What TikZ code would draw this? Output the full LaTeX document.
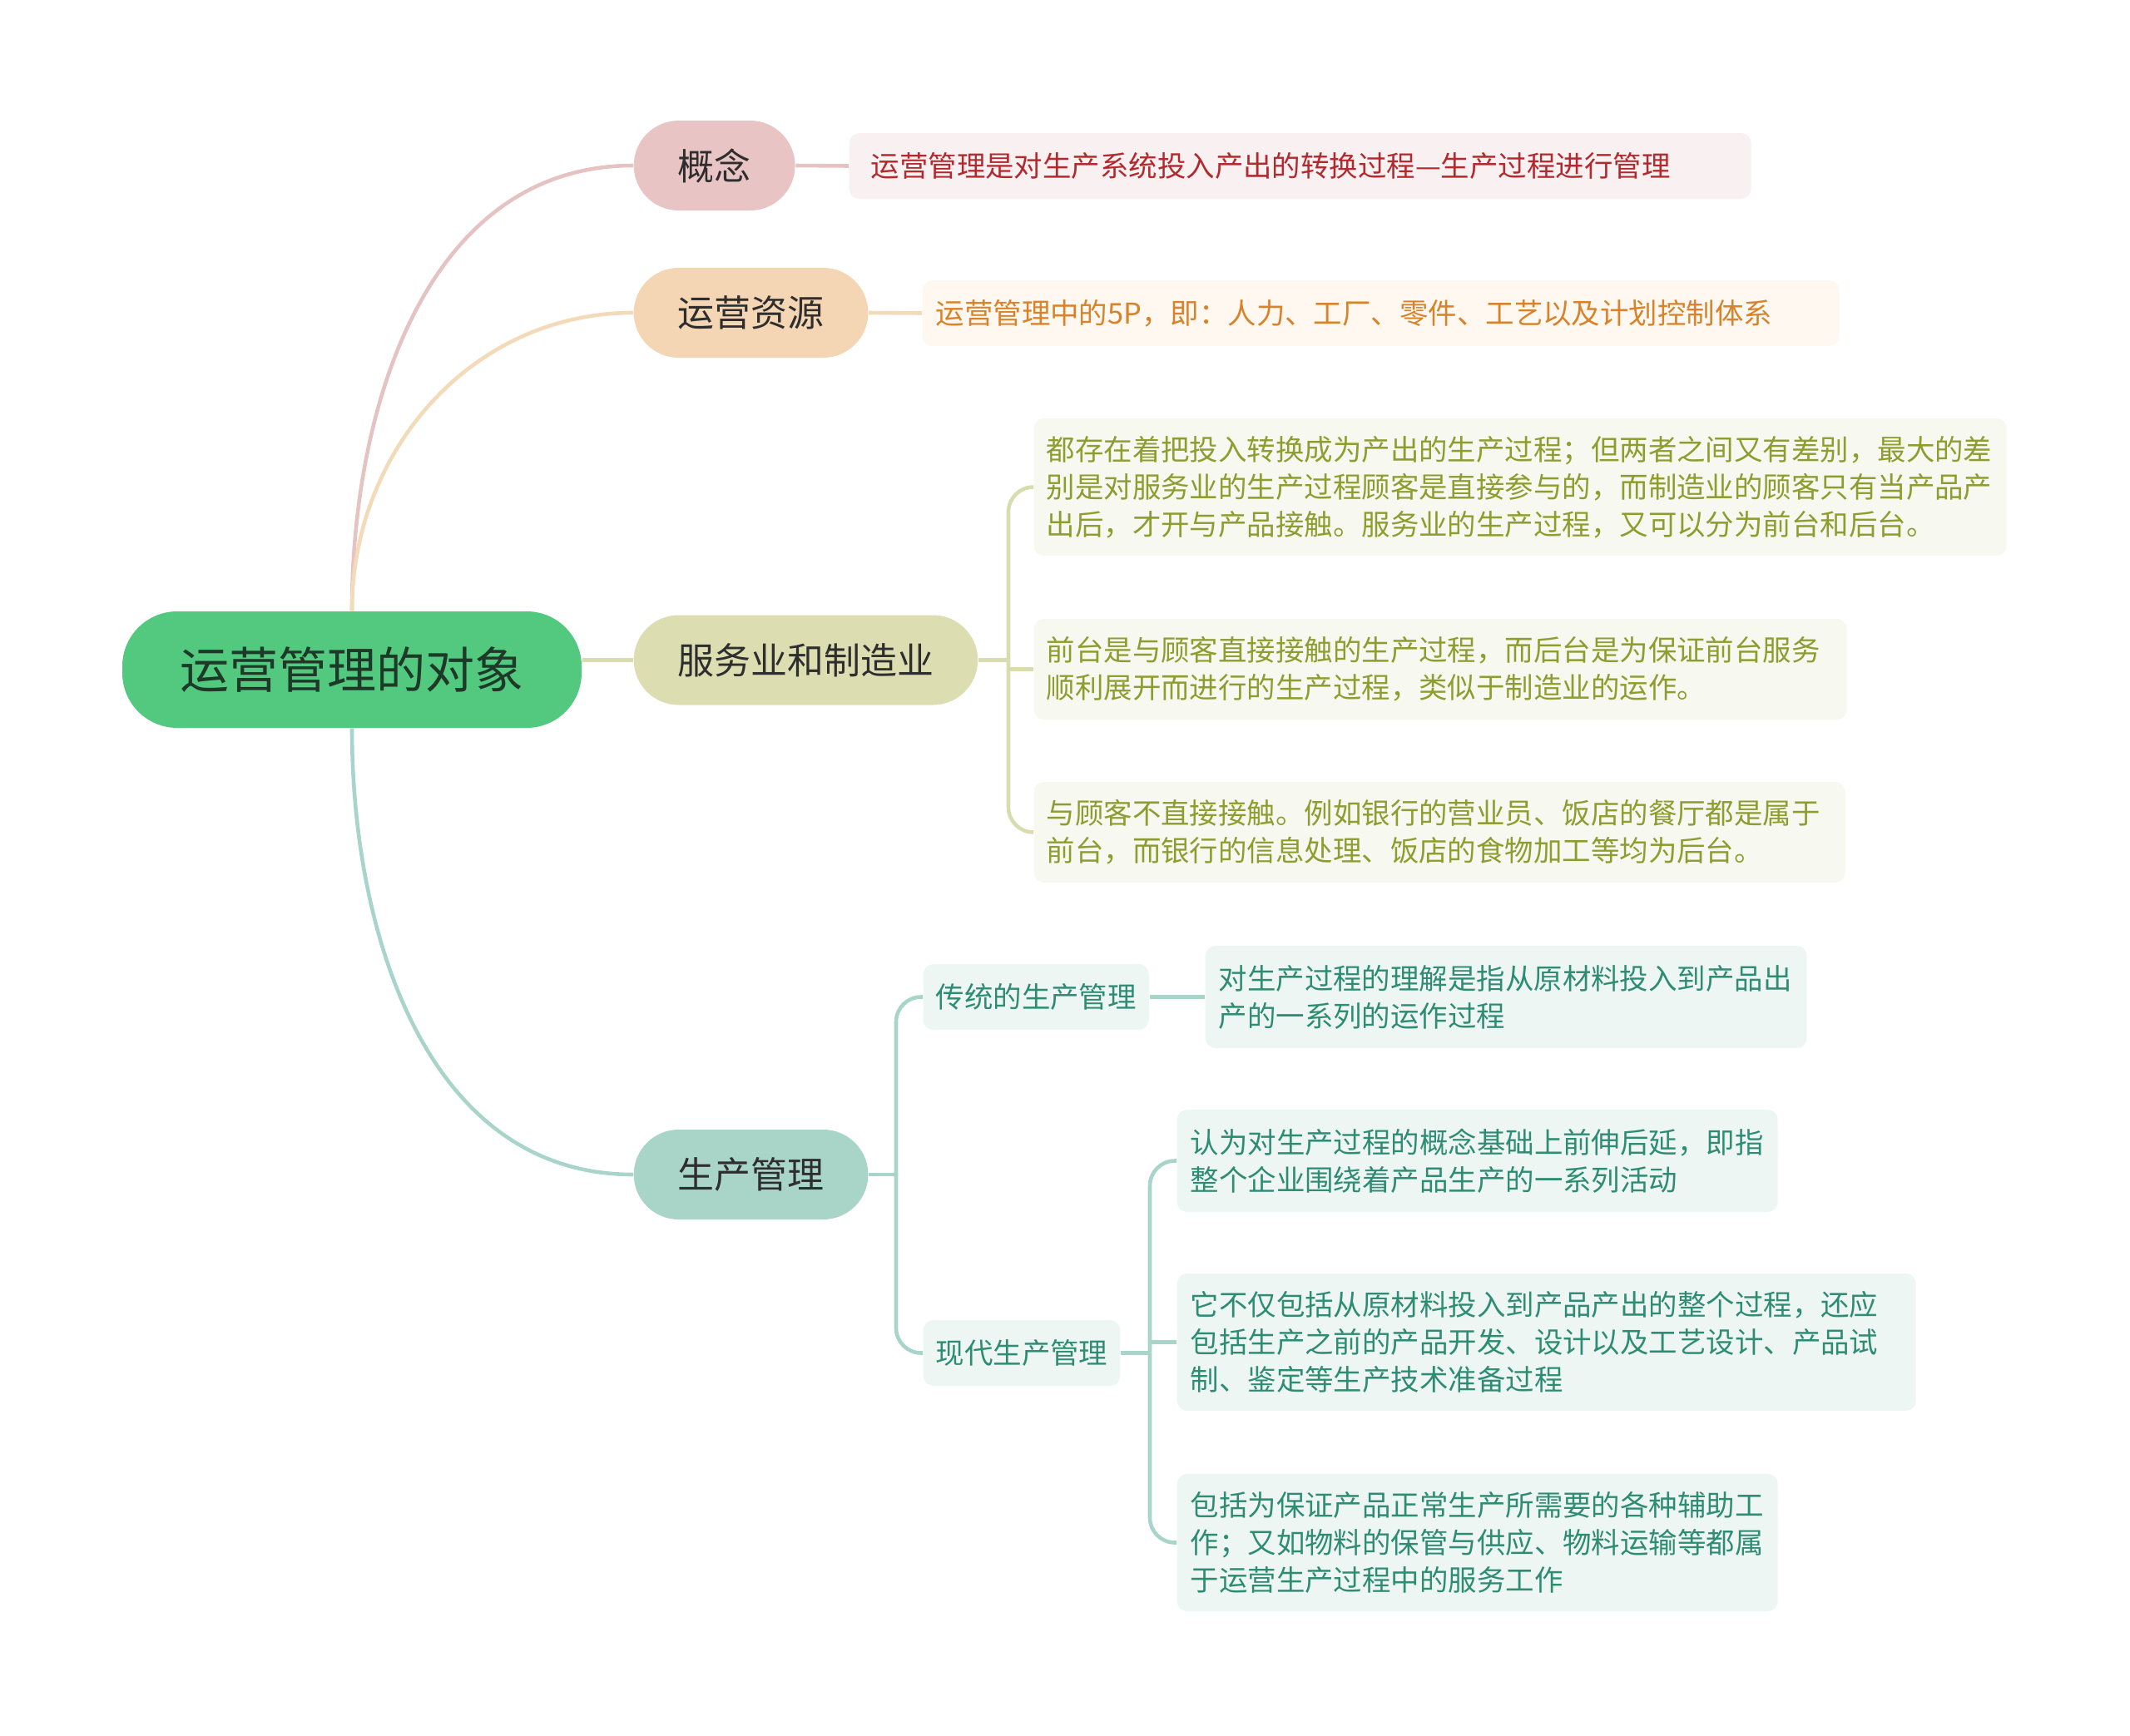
\documentclass[tikz,border=0pt]{standalone}
\usepackage{fontspec}
\setmainfont{Noto Sans CJK SC}
\usepackage{tikz}
\definecolor{rootgreen}{HTML}{52C97F}
\definecolor{rootink}{HTML}{1D3A28}
\definecolor{topicink}{HTML}{2E2E2E}
\definecolor{rosetopic}{HTML}{E8C4C4}
\definecolor{roseline}{HTML}{E6C3C3}
\definecolor{rosebg}{HTML}{F9F1F1}
\definecolor{roseink}{HTML}{B2292E}
\definecolor{sandtopic}{HTML}{F4D6B4}
\definecolor{sandline}{HTML}{F3DAB9}
\definecolor{sandbg}{HTML}{FEF8F0}
\definecolor{sandink}{HTML}{D8822A}
\definecolor{mosstopic}{HTML}{DCDEB2}
\definecolor{mossline}{HTML}{D9DCAF}
\definecolor{mossbg}{HTML}{F7F8EF}
\definecolor{mossink}{HTML}{8E9D30}
\definecolor{sagetopic}{HTML}{A9D5C9}
\definecolor{sageline}{HTML}{A9D4C9}
\definecolor{sagebg}{HTML}{EEF6F4}
\definecolor{sageink}{HTML}{2E8C73}
\tikzset{
  rootnode/.style={rectangle,rounded corners=0.66cm,minimum width=5.52cm,minimum height=1.40cm,
    fill=rootgreen,text=rootink,font=\fontsize{16.8}{20}\selectfont},
  topic/.style={rectangle,rounded corners=0.54cm,minimum height=1.08cm,inner xsep=0.53cm,
    fill=#1topic,text=topicink,font=\fontsize{12.5}{15}\selectfont,anchor=west},
  subtopic/.style={rectangle,rounded corners=0.12cm,minimum height=0.79cm,inner xsep=0.15cm,
    fill=#1bg,text=#1ink,font=\fontsize{9.8}{12.8}\selectfont,anchor=west},
  leaf/.style={rectangle,rounded corners=0.12cm,inner xsep=0.15cm,inner ysep=0pt,
    fill=#1bg,text=#1ink,font=\fontsize{9.8}{12.8}\selectfont,align=left,anchor=west},
  branch/.style={draw=#1line,line width=1.3pt},
}
\begin{document}
\begin{tikzpicture}
  \useasboundingbox (0,0) rectangle (25.6,-20.87);
  \node[rootnode] (root) at (4.23,-8.05) {运营管理的对象};
  % first level
  \node[topic=rose] (gn) at (7.61,-1.99)  {概念};
  \node[topic=sand] (zn) at (7.61,-3.76)  {运营资源};
  \node[topic=moss] (fn) at (7.61,-7.935) {服务业和制造业};
  \node[topic=sage] (sn) at (7.61,-14.12) {生产管理};
  % leaves
  \node[leaf=rose,inner xsep=0.26cm,text width=10.32cm,minimum height=0.79cm] (gl) at (10.20,-1.995)
    {运营管理是对生产系统投入产出的转换过程—生产过程进行管理};
  \node[leaf=sand,inner xsep=0.16cm,text width=10.70cm,minimum height=0.79cm] (zl) at (11.08,-3.765)
    {运营管理中的5P，即：人力、工厂、零件、工艺以及计划控制体系};
  \node[leaf=moss,text width=11.39cm,minimum height=1.65cm] (f1) at (12.42,-5.855)
    {都存在着把投入转换成为产出的生产过程；但两者之间又有差别，最大的差\\别是对服务业的生产过程顾客是直接参与的，而制造业的顾客只有当产品产\\出后，才开与产品接触。服务业的生产过程，又可以分为前台和后台。};
  \node[leaf=moss,text width=9.47cm,minimum height=1.21cm] (f2) at (12.42,-8.045)
    {前台是与顾客直接接触的生产过程，而后台是为保证前台服务\\顺利展开而进行的生产过程，类似于制造业的运作。};
  \node[leaf=moss,text width=9.45cm,minimum height=1.21cm] (f3) at (12.42,-10.005)
    {与顾客不直接接触。例如银行的营业员、饭店的餐厅都是属于\\前台，而银行的信息处理、饭店的食物加工等均为后台。};
  \node[subtopic=sage] (c1) at (11.09,-11.985) {传统的生产管理};
  \node[subtopic=sage] (c2) at (11.09,-16.265) {现代生产管理};
  \node[leaf=sage,inner xsep=0.16cm,text width=6.91cm,minimum height=1.23cm] (ct1) at (14.48,-11.985)
    {对生产过程的理解是指从原材料投入到产品出\\产的一系列的运作过程};
  \node[leaf=sage,inner xsep=0.16cm,text width=6.90cm,minimum height=1.23cm] (m1) at (14.14,-13.955)
    {认为对生产过程的概念基础上前伸后延，即指\\整个企业围绕着产品生产的一系列活动};
  \node[leaf=sage,inner xsep=0.16cm,text width=8.56cm,minimum height=1.65cm] (m2) at (14.14,-16.135)
    {它不仅包括从原材料投入到产品产出的整个过程，还应\\包括生产之前的产品开发、设计以及工艺设计、产品试\\制、鉴定等生产技术准备过程};
  \node[leaf=sage,inner xsep=0.16cm,text width=6.90cm,minimum height=1.65cm] (m3) at (14.14,-18.545)
    {包括为保证产品正常生产所需要的各种辅助工\\作；又如物料的保管与供应、物料运输等都属\\于运营生产过程中的服务工作};
  % junctions
  \coordinate (fj) at (12.12,-7.935);
  \coordinate (sj) at (10.77,-14.12);
  \coordinate (mj) at (13.82,-16.265);
  % root branches
  \draw[branch=rose] (root.north) to[out=90,in=180] (gn.west);
  \draw[branch=sand] (root.north) to[out=90,in=180] (zn.west);
  \draw[branch=moss] (fn.west -| root.east) -- (fn.west);
  \draw[branch=sage] (root.south) to[out=-90,in=180] (sn.west);
  % topic to leaf
  \draw[branch=rose] (gn.east) -- (gl.west);
  \draw[branch=sand] (zn.east) -- (zl.west);
  \draw[branch=moss] (fn.east) -- (fj);
  \draw[branch=moss,rounded corners=0.3cm] (fj) |- (f1.west);
  \draw[branch=moss,rounded corners=0.3cm] (fj) |- (f3.west);
  \draw[branch=moss] (fj |- f2.west) -- (f2.west);
  \draw[branch=sage] (sn.east) -- (sj);
  \draw[branch=sage,rounded corners=0.3cm] (sj) |- (c1.west);
  \draw[branch=sage,rounded corners=0.3cm] (sj) |- (c2.west);
  \draw[branch=sage] (c1.east) -- (ct1.west);
  \draw[branch=sage] (c2.east) -- (mj);
  \draw[branch=sage,rounded corners=0.3cm] (mj) |- (m1.west);
  \draw[branch=sage,rounded corners=0.3cm] (mj) |- (m3.west);
  \draw[branch=sage] (mj |- m2.west) -- (m2.west);
\end{tikzpicture}
\end{document}
